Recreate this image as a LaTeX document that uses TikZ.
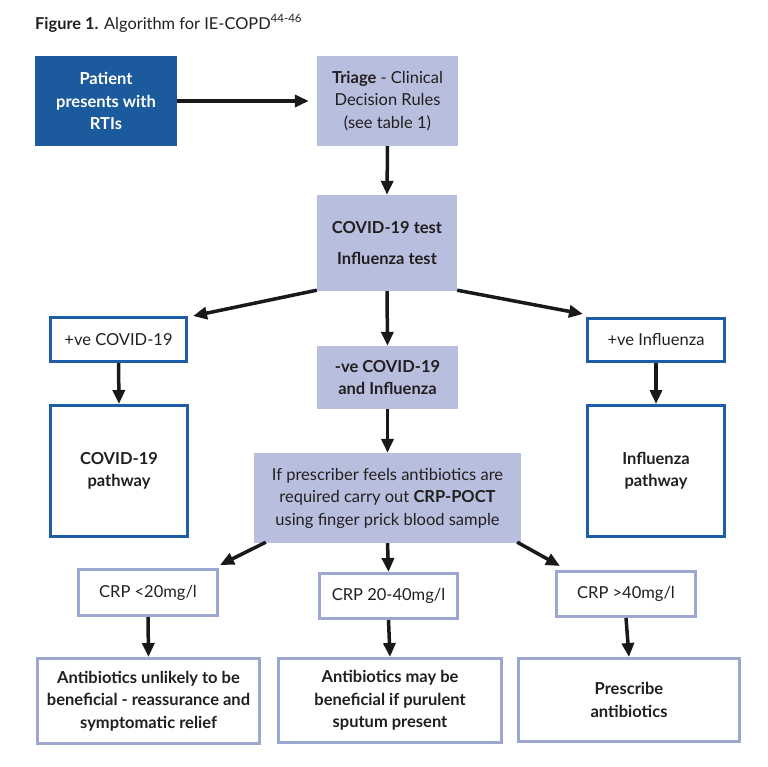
\documentclass[tikz,border=0pt]{standalone}
\usepackage{fontspec}
\setmainfont{Lato}
\usetikzlibrary{arrows.meta,calc}
\definecolor{darkblue}{HTML}{1B5A9C}
\definecolor{midblue}{HTML}{1F5EA6}
\definecolor{lavfill}{HTML}{B8BEDD}
\definecolor{lavline}{HTML}{9CA7D2}
\definecolor{txt}{HTML}{231F20}
\tikzset{
  base/.style={rectangle, inner sep=0pt, align=center, text=txt,
    font=\fontsize{16.5}{22.5}\selectfont},
  boldtxt/.style={font=\fontsize{16.5}{22.5}\selectfont\bfseries},
  darkbox/.style={base, fill=darkblue, text=white, boldtxt},
  lavbox/.style={base, fill=lavfill},
  bluebox/.style={base, draw=midblue, line width=3pt, fill=white},
  crpbox/.style={base, draw=lavline, line width=3pt, fill=white},
  conn/.style={line width=3.5pt, draw=black!90, -{Triangle[length=14pt,width=12pt]}},
}
\begin{document}
\begin{tikzpicture}[x=1pt,y=-1pt]
\useasboundingbox (0,0) rectangle (768,766);
\node[anchor=base west, inner sep=0pt, text=txt, font=\fontsize{16.4}{18}\selectfont] (title) at (35,29)
  {\textbf{Figure 1.} Algorithm for IE-COPD\textsuperscript{44-46}};

\node[darkbox, minimum width=142pt, minimum height=90pt] (patient) at (106,101)
  {Patient\\presents with\\RTIs};
\node[lavbox, minimum width=141pt, minimum height=90pt] (triage) at (387.5,101)
  {\textbf{Triage} - Clinical\\Decision Rules\\(see table 1)};
\node[lavbox, boldtxt, minimum width=140pt, minimum height=96pt] (covid) at (387,243)
  {COVID-19 test\\[9pt]Influenza test};
\node[bluebox, minimum width=136pt, minimum height=44pt] (poscov) at (118.5,339.5) {+ve COVID-19};
\node[bluebox, minimum width=137pt, minimum height=43pt] (posflu) at (656,340) {+ve Influenza};
\node[lavbox, boldtxt, minimum width=141pt, minimum height=63pt] (neg) at (387.5,377.5)
  {-ve COVID-19\\and Influenza};
\node[bluebox, boldtxt, minimum width=137pt, minimum height=131pt] (covpath) at (119,471)
  {COVID-19\\pathway};
\node[bluebox, boldtxt, minimum width=137pt, minimum height=131pt] (flupath) at (656,471)
  {Influenza\\pathway};
\node[lavbox, minimum width=267pt, minimum height=90pt] (poct) at (387.5,498)
  {If prescriber feels antibiotics are\\required carry out \textbf{CRP-POCT}\\using finger prick blood sample};
\node[crpbox, minimum width=139pt, minimum height=46pt] (crpa) at (148,592.5) {CRP <20mg/l};
\node[crpbox, minimum width=138pt, minimum height=45pt] (crpb) at (388.5,596) {CRP 20-40mg/l};
\node[crpbox, minimum width=139pt, minimum height=45pt] (crpc) at (626,594) {CRP >40mg/l};
\node[crpbox, boldtxt, minimum width=222pt, minimum height=85pt] (resa) at (148.5,701)
  {Antibiotics unlikely to be\\beneficial - reassurance and\\symptomatic relief};
\node[crpbox, boldtxt, minimum width=223pt, minimum height=84pt] (resb) at (390,700.5)
  {Antibiotics may be\\beneficial if purulent\\sputum present};
\node[crpbox, boldtxt, minimum width=221pt, minimum height=83pt] (resc) at (629,700)
  {Prescribe\\antibiotics};

\draw[conn, shorten >=8pt] (patient.east) -- (triage.west);
\draw[conn] (triage.south) -- (covid.north);
\draw[conn] ($(covid.south west)+(0,-1)$) -- ($(poscov.north east)+(5,0)$);
\draw[conn] ($(covid.south east)+(0,-1)$) -- ($(posflu.north west)+(-3,-3)$);
\draw[conn] (covid.south) -- (neg.north);
\draw[conn] (poscov.south) -- (covpath.north);
\draw[conn] (posflu.south) -- (flupath.north);
\draw[conn] (neg.south) -- (poct.north);
\draw[conn] ($(poct.south west)+(12,-1)$) -- ($(crpa.north east)+(1,-3)$);
\draw[conn] (poct.south) -- (crpb.north);
\draw[conn] ($(poct.south east)+(-4,-1)$) -- ($(crpc.north west)+(5,-4)$);
\draw[conn] (crpa.south) -- (resa.north);
\draw[conn] (crpb.south) -- (resb.north);
\draw[conn] (crpc.south) -- (resc.north);
\end{tikzpicture}
\end{document}
